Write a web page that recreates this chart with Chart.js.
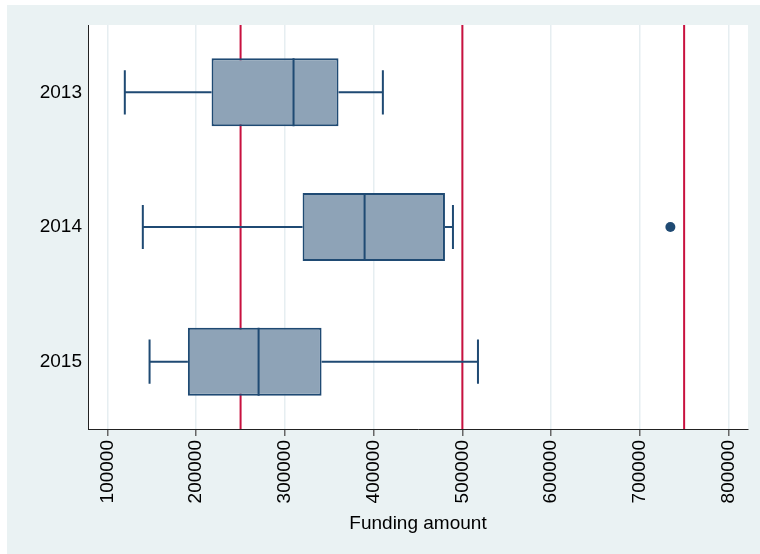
<!DOCTYPE html>
<html>
<head>
<meta charset="utf-8">
<title>Funding amount by year</title>
<script src="https://cdn.jsdelivr.net/npm/chart.js@4/dist/chart.umd.min.js"></script>
<style>
    body { margin: 0; background: #fff; }
    canvas { display: block; }
</style>
</head>
<body>
<canvas id="boxChart" width="760" height="554"></canvas>
<script>
// Box plot summary per year
const years = ['2013', '2014', '2015'];
const lowerWhisker = [119500, 139800, 147400];
const q1 = [217300, 319900, 190600];
const median = [309700, 389800, 270300];
const q3 = [360400, 480400, 341300];
const upperWhisker = [410400, 489400, 517600];
const outliers = [[], [734500], []];

// Reference lines and axis ticks
const refLines = [250000, 500000, 750000];
const xTicks = [100000, 200000, 300000, 400000, 500000, 600000, 700000, 800000];

const navy = '#1f4a73';
const fontFamily = '"Liberation Sans", Arial, sans-serif';

// Stata style background + white plot region
const backgroundPlugin = {
    id: 'background',
    beforeDraw(chart) {
        const ctx = chart.ctx;
        const area = chart.chartArea;
        ctx.save();
        ctx.fillStyle = '#ffffff';
        ctx.fillRect(0, 0, chart.width, chart.height);
        ctx.fillStyle = '#eaf2f3';
        ctx.fillRect(7, 5, chart.width - 7, chart.height - 5);
        ctx.fillStyle = '#ffffff';
        ctx.fillRect(area.left, area.top, area.right - area.left, area.bottom - area.top);
        ctx.restore();
    }
};

// Red vertical reference lines behind the boxes
const refLinePlugin = {
    id: 'refLines',
    beforeDatasetsDraw(chart) {
        const ctx = chart.ctx;
        const x = chart.scales.x;
        const area = chart.chartArea;
        ctx.save();
        ctx.strokeStyle = '#c8113f';
        ctx.lineWidth = 2;
        refLines.forEach(v => {
            const px = x.getPixelForValue(v);
            ctx.beginPath();
            ctx.moveTo(px, area.top);
            ctx.lineTo(px, area.bottom);
            ctx.stroke();
        });
        ctx.restore();
    }
};

// Whiskers, caps, medians and outside values
const boxPartsPlugin = {
    id: 'boxParts',
    afterDatasetsDraw(chart) {
        const ctx = chart.ctx;
        const x = chart.scales.x;
        const bars = chart.getDatasetMeta(0).data;
        ctx.save();
        ctx.strokeStyle = navy;
        ctx.lineWidth = 2;
        years.forEach((year, i) => {
            const bar = bars[i];
            const cy = bar.y;
            const half = bar.height / 2;
            const capHalf = half * 0.65;
            const lw = x.getPixelForValue(lowerWhisker[i]);
            const uw = x.getPixelForValue(upperWhisker[i]);
            const b1 = x.getPixelForValue(q1[i]);
            const b3 = x.getPixelForValue(q3[i]);
            const md = x.getPixelForValue(median[i]);

            ctx.beginPath();
            ctx.moveTo(lw, cy);
            ctx.lineTo(b1, cy);
            ctx.moveTo(b3, cy);
            ctx.lineTo(uw, cy);
            ctx.moveTo(lw, cy - capHalf);
            ctx.lineTo(lw, cy + capHalf);
            ctx.moveTo(uw, cy - capHalf);
            ctx.lineTo(uw, cy + capHalf);
            ctx.moveTo(md, cy - half);
            ctx.lineTo(md, cy + half);
            ctx.stroke();

            ctx.fillStyle = navy;
            outliers[i].forEach(v => {
                ctx.beginPath();
                ctx.arc(x.getPixelForValue(v), cy, 5, 0, Math.PI * 2);
                ctx.fill();
            });
        });
        ctx.restore();
    }
};

const ctx = document.getElementById('boxChart').getContext('2d');
new Chart(ctx, {
    type: 'bar',
    data: {
        labels: years,
        datasets: [{
            label: 'Funding amount',
            data: years.map((y, i) => [q1[i], q3[i]]),
            backgroundColor: '#8ea3b7',
            borderColor: navy,
            borderWidth: 2,
            borderSkipped: false,
            barPercentage: 0.505,
            categoryPercentage: 1
        }]
    },
    options: {
        indexAxis: 'y',
        responsive: false,
        animation: false,
        layout: { padding: { top: 25, right: 12, left: 0, bottom: 0 } },
        plugins: {
            legend: { display: false },
            tooltip: { enabled: false }
        },
        scales: {
            x: {
                type: 'linear',
                min: 78000,
                max: 822000,
                afterBuildTicks: scale => {
                    scale.ticks = xTicks.map(v => ({ value: v }));
                },
                afterFit: scale => { scale.height = 125; },
                grid: {
                    color: '#e6eef1',
                    lineWidth: 1.5,
                    tickColor: '#666666',
                    tickWidth: 1.5,
                    tickLength: 7
                },
                border: { color: '#222222', width: 1 },
                ticks: {
                    minRotation: 90,
                    maxRotation: 90,
                    padding: 4,
                    color: '#000000',
                    font: { family: fontFamily, size: 19 },
                    callback: v => String(v)
                },
                title: {
                    display: true,
                    text: 'Funding amount',
                    color: '#000000',
                    font: { family: fontFamily, size: 19 },
                    padding: { top: 0, bottom: 19 }
                }
            },
            y: {
                type: 'category',
                afterFit: scale => { scale.width = 88; },
                grid: { display: false, drawTicks: false },
                border: { color: '#222222', width: 1 },
                ticks: {
                    padding: 6,
                    color: '#000000',
                    font: { family: fontFamily, size: 19 }
                }
            }
        }
    },
    plugins: [backgroundPlugin, refLinePlugin, boxPartsPlugin]
});
</script>
</body>
</html>
